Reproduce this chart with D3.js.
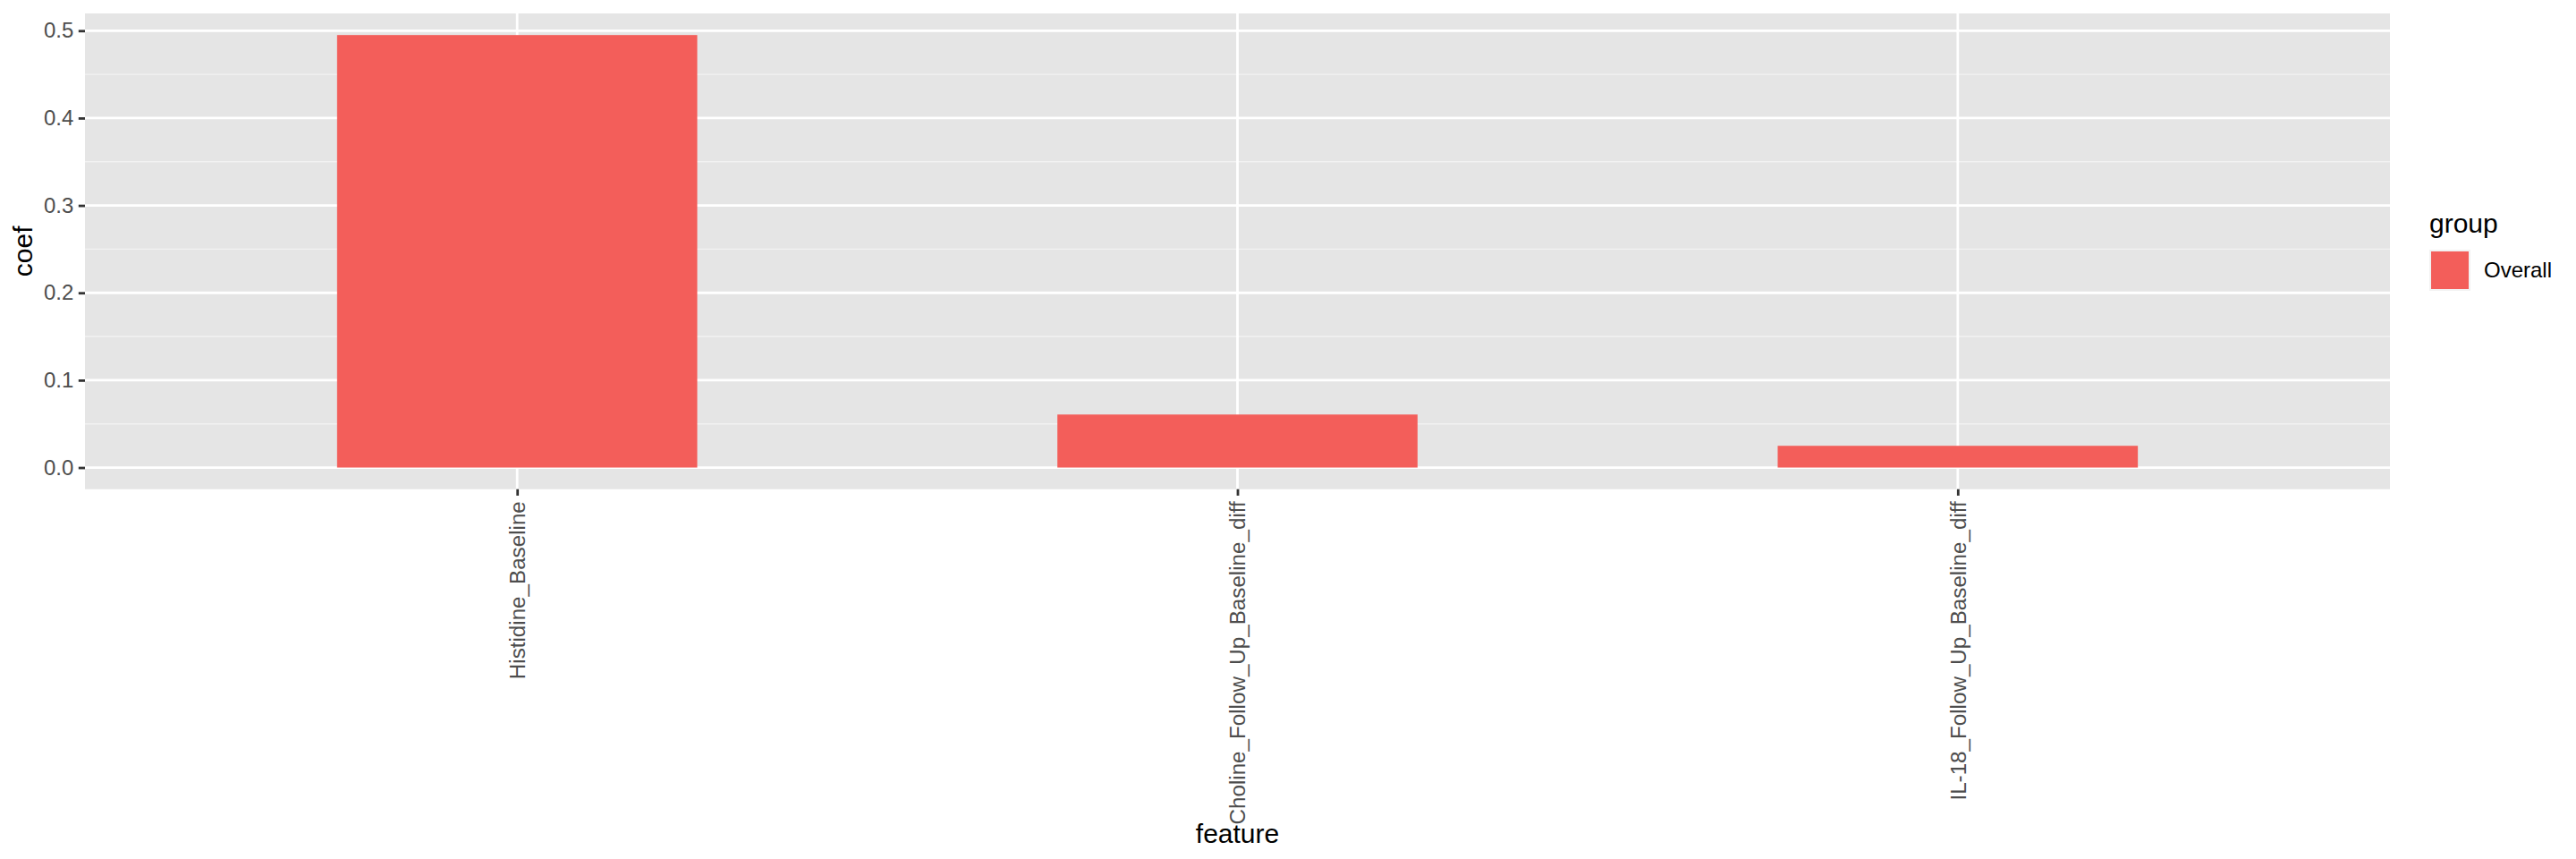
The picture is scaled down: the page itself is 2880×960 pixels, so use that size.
<!DOCTYPE html>
<html>
<head>
<meta charset="utf-8">
<script src="https://cdn.jsdelivr.net/npm/d3@7"></script>
<style>
html,body{margin:0;padding:0;background:#fff;}
svg{display:block;font-family:"Liberation Sans",Arial,Helvetica,sans-serif;}
</style>
</head>
<body>
<svg id="chart" width="2880" height="960"></svg>
<script>
const categories = ["Histidine_Baseline", "Choline_Follow_Up_Baseline_diff", "IL-18_Follow_Up_Baseline_diff"];
const coefValues = [0.495, 0.0607, 0.0249];
const yTicks = [0.0, 0.1, 0.2, 0.3, 0.4, 0.5];
const yMinor = [0.05, 0.15, 0.25, 0.35, 0.45];
const groupLabels = ["Overall"];
const groupColors = ["#F35E5A"];

const svg = d3.select("#chart");
const P = {left: 95, right: 2672, top: 15, bottom: 546.7};

const maxV = d3.max(coefValues);
const pad = maxV * 0.05;
const y = d3.scaleLinear().domain([-pad, maxV + pad]).range([P.bottom, P.top]);
// discrete axis: positions 1..n with 0.6 expansion each side
const unit = (P.right - P.left) / (categories.length - 1 + 1.2);
const xPos = d3.scaleLinear().domain([0.4, categories.length + 0.6]).range([P.left, P.right]);
const xOf = c => xPos(categories.indexOf(c) + 1);
const barW = 0.5 * unit;

// panel background
svg.append("rect").attr("x", P.left).attr("y", P.top)
  .attr("width", P.right - P.left).attr("height", P.bottom - P.top).attr("fill", "#E5E5E5");

// minor grid
svg.append("g").selectAll("line").data(yMinor).join("line")
  .attr("x1", P.left).attr("x2", P.right)
  .attr("y1", d => y(d)).attr("y2", d => y(d))
  .attr("stroke", "#F2F2F2").attr("stroke-width", 1.4);
// major grid
svg.append("g").selectAll("line").data(yTicks).join("line")
  .attr("x1", P.left).attr("x2", P.right)
  .attr("y1", d => y(d)).attr("y2", d => y(d))
  .attr("stroke", "#FFFFFF").attr("stroke-width", 2.8);
svg.append("g").selectAll("line").data(categories).join("line")
  .attr("y1", P.top).attr("y2", P.bottom)
  .attr("x1", d => xOf(d)).attr("x2", d => xOf(d))
  .attr("stroke", "#FFFFFF").attr("stroke-width", 2.8);

// bars
svg.append("g").selectAll("rect").data(categories).join("rect")
  .attr("x", d => xOf(d) - barW / 2)
  .attr("width", barW)
  .attr("y", (d, i) => y(coefValues[i]))
  .attr("height", (d, i) => y(0) - y(coefValues[i]))
  .attr("fill", groupColors[0]);

// y axis
const yAxis = d3.axisLeft(y).tickValues(yTicks).tickFormat(d3.format(".1f")).tickSize(7.2).tickPadding(5.5);
const gy = svg.append("g").attr("transform", `translate(${P.left},0)`).call(yAxis);
gy.select(".domain").remove();
gy.selectAll(".tick line").attr("stroke", "#333333").attr("stroke-width", 2.8);
gy.selectAll(".tick text").attr("fill", "#4D4D4D").attr("font-size", 24)
  .attr("font-family", "Liberation Sans, Arial, sans-serif");

// x axis
const xAxis = d3.axisBottom(d3.scaleOrdinal().domain(categories).range(categories.map(xOf)))
  .tickSize(7.2).tickPadding(0);
const gx = svg.append("g").attr("transform", `translate(0,${P.bottom})`).call(xAxis);
gx.select(".domain").remove();
gx.selectAll(".tick line").attr("stroke", "#333333").attr("stroke-width", 2.8);
gx.selectAll(".tick text")
  .attr("fill", "#4D4D4D").attr("font-size", 24.2)
  .attr("font-family", "Liberation Sans, Arial, sans-serif")
  .attr("text-anchor", "end")
  .attr("transform", "translate(0,13.5) rotate(-90)")
  .attr("x", 0).attr("y", 0).attr("dy", "0.35em");

// axis titles
svg.append("text").attr("x", (P.left + P.right) / 2).attr("y", 942)
  .attr("text-anchor", "middle").attr("font-size", 30).attr("fill", "#000").text("feature");
svg.append("text").attr("transform", `translate(36,${(P.top + P.bottom) / 2}) rotate(-90)`)
  .attr("text-anchor", "middle").attr("font-size", 30).attr("fill", "#000").text("coef");

// legend
const lg = svg.append("g").attr("transform", "translate(2716,0)");
lg.append("text").attr("x", 0).attr("y", 260).attr("font-size", 30).attr("fill", "#000").text("group");
groupLabels.forEach((g, i) => {
  const yy = 279 + i * 46;
  lg.append("rect").attr("x", 0).attr("y", yy).attr("width", 46).attr("height", 46).attr("fill", "#F2F2F2");
  lg.append("rect").attr("x", 2).attr("y", yy + 2).attr("width", 42).attr("height", 42).attr("fill", groupColors[i]);
  lg.append("text").attr("x", 61).attr("y", yy + 23).attr("dy", "0.35em").attr("font-size", 24).attr("fill", "#000").text(g);
});
</script>
</body>
</html>
